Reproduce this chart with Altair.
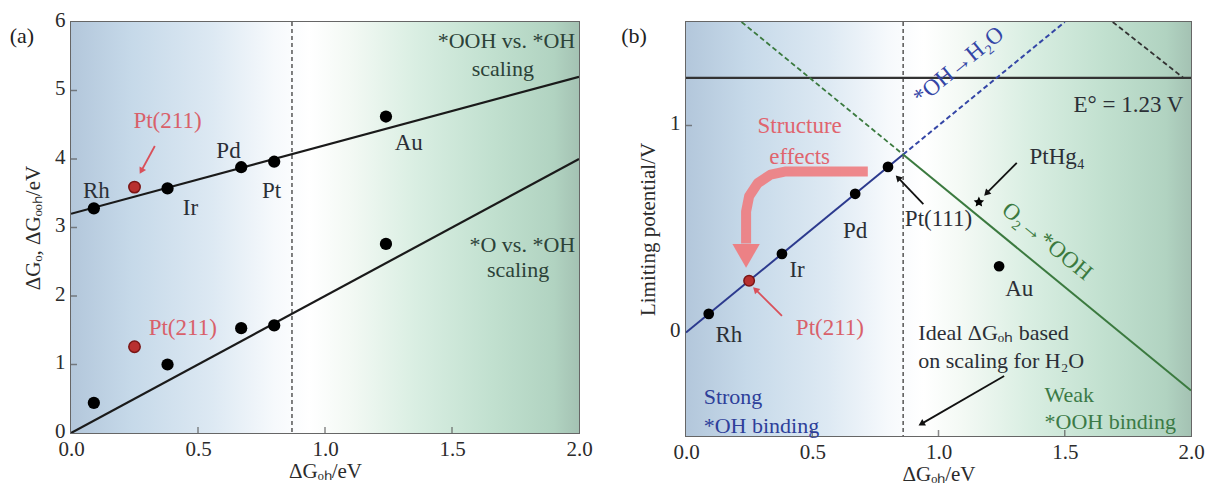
import math
import altair as alt
import pandas as pd

FONT = "Liberation Serif, Times New Roman, serif"
TS = 23  # annotation font size

# ---------------- data: panel (a) ----------------
a_metals = ["Rh", "Pt(211)", "Ir", "Pd", "Pt", "Au"]
a_dG_OH = [0.09, 0.25, 0.38, 0.67, 0.80, 1.24]
a_dG_OOH = [3.28, 3.59, 3.57, 3.88, 3.96, 4.62]
a_dG_O = [0.44, 1.26, 1.00, 1.53, 1.57, 2.76]
a_red = [False, True, False, False, False, False]

line_x = [0.0, 2.0]
ooh_scaling = [3.2, 5.2]
o_scaling = [0.0, 4.0]
ideal_dG_OH = 0.87

# ---------------- data: panel (b) ----------------
b_metals = ["Rh", "Pt(211)", "Ir", "Pd", "Pt(111)"]
b_dG_OH = [0.09, 0.25, 0.38, 0.67, 0.80]
b_U = [0.09, 0.25, 0.38, 0.67, 0.80]
au_b = [1.24, 0.32]
pthg4_b = [1.16, 0.63]
E0 = 1.23
top_ideal = 0.86
oh_h2o_x = [0.0, 0.86, 1.5]
oh_h2o_y = [0.0, 0.86, 1.5]
o2_ooh_x = [0.22, 0.86, 2.0]
o2_ooh_y = [1.5, 0.86, -0.28]
extra_dash_x = [1.69, 1.97]
extra_dash_y = [1.5, 1.23]

# structure-effects curved arrow path
se_x = [0.72, 0.396, 0.335, 0.284, 0.250, 0.238, 0.238]
se_y = [0.778, 0.778, 0.763, 0.721, 0.658, 0.585, 0.43]

# ---------------- layout ----------------
WA, HA = 508, 411
WB, HB = 505, 414
sxa, sya = WA / 2.0, HA / 6.0
sxb, syb = WB / 2.0, HB / 2.0

GRAD_STOPS = [
    {"offset": 0.0, "color": "#b3c7db"},
    {"offset": 0.12, "color": "#c6d9e9"},
    {"offset": 0.28, "color": "#dde9f3"},
    {"offset": 0.40, "color": "#f6f9fc"},
    {"offset": 0.47, "color": "#ffffff"},
    {"offset": 0.55, "color": "#f3f9f4"},
    {"offset": 0.68, "color": "#d9eee2"},
    {"offset": 0.83, "color": "#c1e0cf"},
    {"offset": 0.95, "color": "#b1d3c1"},
    {"offset": 1.0, "color": "#a4c2b3"},
]
GRADIENT = alt.LinearGradient(gradient="linear", x1=0, y1=0, x2=1, y2=0, stops=GRAD_STOPS)


def make_enc(xdom, ydom, xvals, yvals, xtitle, ytitle):
    xs = alt.Scale(domain=xdom, nice=False, zero=False)
    ys = alt.Scale(domain=ydom, nice=False, zero=False)
    xa = alt.Axis(values=xvals, format=".1f", title=xtitle, labelPadding=5, titlePadding=1,
                  labelFlush=False)
    ya = alt.Axis(values=yvals, format="d", title=ytitle, labelPadding=6, titlePadding=11,
                  labelFlush=False, labelOffset=-2)

    def X(field="x"):
        return alt.X(f"{field}:Q", scale=xs, axis=xa)

    def Y(field="y"):
        return alt.Y(f"{field}:Q", scale=ys, axis=ya)

    return X, Y


def texts(rows, X, Y, color, size=TS, align="center", angle=0, style="normal", baseline="middle"):
    df = pd.DataFrame(rows, columns=["x", "y", "t"])
    return alt.Chart(df).mark_text(
        font=FONT, fontSize=size, color=color, align=align, angle=angle,
        fontStyle=style, baseline=baseline
    ).encode(x=X(), y=Y(), text="t:N")


def arrow(x0, y0, x1, y1, sx, sy, X, Y, color, width=1.8, head=55):
    dx = (x1 - x0) * sx
    dy = -(y1 - y0) * sy
    ang = math.degrees(math.atan2(dx, -dy)) % 360
    L = math.hypot(dx, dy)
    back = 3.5
    hx = x1 - dx / L * back / sx
    hy = y1 + dy / L * back / sy
    ln = alt.Chart(pd.DataFrame({"x": [x0, hx], "y": [y0, hy]})).mark_line(
        color=color, strokeWidth=width).encode(x=X(), y=Y())
    hd = alt.Chart(pd.DataFrame({"x": [hx], "y": [hy]})).mark_point(
        shape="triangle-up", filled=True, size=head, color=color, opacity=1,
        angle=ang).encode(x=X(), y=Y())
    return [ln, hd]


def background(X, Y, xdom, ydom):
    df = pd.DataFrame({"x": [xdom[0]], "x2": [xdom[1]], "y": [ydom[0]], "y2": [ydom[1]]})
    return alt.Chart(df).mark_rect(fill=GRADIENT).encode(x=X(), x2="x2", y=Y(), y2="y2")


def inner_ticks(X, Y, xticks, yticks, h):
    tx = alt.Chart(pd.DataFrame({"x": xticks})).mark_tick(
        color="#555", size=6, thickness=1.5).encode(x=X(), y=alt.value(h - 3))
    ty = alt.Chart(pd.DataFrame({"y": yticks})).mark_tick(
        color="#555", size=6, thickness=1.5).encode(y=Y(), x=alt.value(3))
    return [tx, ty]


# ================= panel (a) =================
Xa, Ya = make_enc([0, 2], [0, 6], [0, 0.5, 1, 1.5, 2], [0, 1, 2, 3, 4, 5, 6],
                  "ΔGₒₕ/eV", "ΔGₒ, ΔGₒₒₕ/eV")

dfa = pd.DataFrame({"x": a_dG_OH, "ooh": a_dG_OOH, "o": a_dG_O, "red": a_red, "m": a_metals})
dfa_black = dfa[~dfa["red"]]
dfa_red = dfa[dfa["red"]]
dfl = pd.DataFrame({"x": line_x, "ooh": ooh_scaling, "o": o_scaling})

a_layers = [background(Xa, Ya, [0, 2], [0, 6])]
a_layers += inner_ticks(Xa, Ya, [0.5, 1.0, 1.5], [1, 2, 3, 4, 5], HA)
a_layers.append(alt.Chart(pd.DataFrame({"x": [ideal_dG_OH]})).mark_rule(
    color="#555", strokeDash=[4, 3], strokeWidth=1.5).encode(x=Xa()))
for f in ["ooh", "o"]:
    a_layers.append(alt.Chart(dfl).mark_line(color="#1a1a1a", strokeWidth=2.2, clip=True).encode(
        x=Xa(), y=Ya(f)))
    a_layers.append(alt.Chart(dfa_black).mark_circle(color="#000", size=150, opacity=1).encode(
        x=Xa(), y=Ya(f)))
    a_layers.append(alt.Chart(dfa_red).mark_point(
        filled=True, fill="#b8302f", stroke="#7a1515", strokeWidth=1.5, size=130, opacity=1).encode(
        x=Xa(), y=Ya(f)))

a_layers.append(texts([[0.10, 3.53, "Rh"], [0.47, 3.28, "Ir"], [0.62, 4.12, "Pd"],
                       [0.79, 3.53, "Pt"], [1.33, 4.24, "Au"]], Xa, Ya, "#2b2f36"))
a_layers.append(texts([[0.38, 4.56, "Pt(211)"], [0.44, 1.54, "Pt(211)"]], Xa, Ya, "#d9606a"))
a_layers.append(texts([[1.985, 5.72, "*OOH vs. *OH"], [1.985, 2.74, "*O vs. *OH"]], Xa, Ya,
                      "#2c4238", size=22, align="right"))
a_layers.append(texts([[1.70, 5.32, "scaling"], [1.76, 2.38, "scaling"]], Xa, Ya, "#2c4238", size=22))
a_layers.append(texts([[-0.193, 5.80, "(a)"]], Xa, Ya, "#222", size=22))
a_layers += arrow(0.33, 4.19, 0.27, 3.78, sxa, sya, Xa, Ya, "#d9505a", width=1.8, head=55)

panel_a = alt.layer(*a_layers).properties(width=WA, height=HA)

# ================= panel (b) =================
Xb, Yb = make_enc([0, 2], [-0.5, 1.5], [0, 0.5, 1, 1.5, 2], [0, 1],
                  "ΔGₒₕ/eV", "Limiting potential/V")

BLUE = "#2c3a8e"
GREEN = "#3b7a3f"

b_layers = [background(Xb, Yb, [0, 2], [-0.5, 1.5])]
b_layers += inner_ticks(Xb, Yb, [0.5, 1.0, 1.5], [1], HB)
b_layers.append(alt.Chart(pd.DataFrame({"x": [top_ideal]})).mark_rule(
    color="#555", strokeDash=[4, 3], strokeWidth=1.5).encode(x=Xb()))
b_layers.append(alt.Chart(pd.DataFrame({"y": [E0]})).mark_rule(
    color="#333", strokeWidth=2.2).encode(y=Yb()))

df_oh = pd.DataFrame({"x": oh_h2o_x, "y": oh_h2o_y})
df_o2 = pd.DataFrame({"x": o2_ooh_x, "y": o2_ooh_y})
b_layers.append(alt.Chart(df_oh.iloc[:2]).mark_line(color=BLUE, strokeWidth=2, clip=True).encode(x=Xb(), y=Yb()))
b_layers.append(alt.Chart(df_oh.iloc[1:]).mark_line(color="#3446a6", strokeWidth=2, strokeDash=[5, 3], clip=True).encode(x=Xb(), y=Yb()))
b_layers.append(alt.Chart(df_o2.iloc[1:]).mark_line(color=GREEN, strokeWidth=2, clip=True).encode(x=Xb(), y=Yb()))
b_layers.append(alt.Chart(df_o2.iloc[:2]).mark_line(color=GREEN, strokeWidth=1.8, strokeDash=[5, 3], clip=True).encode(x=Xb(), y=Yb()))
b_layers.append(alt.Chart(pd.DataFrame({"x": extra_dash_x, "y": extra_dash_y})).mark_line(
    color="#333", strokeWidth=1.8, strokeDash=[5, 3], clip=True).encode(x=Xb(), y=Yb()))

# structure effects arrow
df_se = pd.DataFrame({"x": se_x, "y": se_y, "o": list(range(len(se_x)))})
b_layers.append(alt.Chart(df_se).mark_line(color="#ee7c80", strokeWidth=10, opacity=0.9,
                                           strokeCap="butt", strokeJoin="round").encode(
    x=Xb(), y=Yb(), order="o:Q"))
b_layers.append(alt.Chart(pd.DataFrame({"x": [0.238], "y": [0.37]})).mark_point(
    shape="triangle-down", filled=True, size=750, color="#ee7c80", opacity=0.95).encode(x=Xb(), y=Yb()))

dfb = pd.DataFrame({"x": b_dG_OH, "y": b_U, "m": b_metals})
b_layers.append(alt.Chart(dfb[dfb["m"] != "Pt(211)"]).mark_circle(color="#000", size=115, opacity=1).encode(x=Xb(), y=Yb()))
b_layers.append(alt.Chart(dfb[dfb["m"] == "Pt(211)"]).mark_point(
    filled=True, fill="#b8302f", stroke="#7a1515", strokeWidth=1.5, size=110, opacity=1).encode(x=Xb(), y=Yb()))
b_layers.append(alt.Chart(pd.DataFrame({"x": [au_b[0]], "y": [au_b[1]]})).mark_circle(
    color="#000", size=115, opacity=1).encode(x=Xb(), y=Yb()))
b_layers.append(alt.Chart(pd.DataFrame({"x": [pthg4_b[0]], "y": [pthg4_b[1]]})).mark_point(
    shape="M0,-1L0.29,-0.4L0.95,-0.31L0.48,0.15L0.59,0.81L0,0.5L-0.59,0.81L-0.48,0.15L-0.95,-0.31L-0.29,-0.4Z",
    filled=True, color="#000", size=120, opacity=1).encode(x=Xb(), y=Yb()))

b_layers.append(texts([[0.17, -0.01, "Rh"], [0.44, 0.30, "Ir"], [0.67, 0.49, "Pd"],
                       [1.0, 0.55, "Pt(111)"], [1.32, 0.21, "Au"], [1.47, 0.85, "PtHg₄"]],
                      Xb, Yb, "#2b2f36"))
b_layers.append(texts([[0.57, 0.02, "Pt(211)"]], Xb, Yb, "#d9606a"))
b_layers.append(texts([[0.45, 1.0, "Structure"], [0.45, 0.85, "effects"]], Xb, Yb, "#e0646e"))
b_layers.append(texts([[1.97, 1.10, "E° = 1.23 V"]], Xb, Yb, "#2b2f36", align="right"))
b_layers.append(texts([[0.92, 0.0, "Ideal ΔGₒₕ based"], [0.92, -0.14, "on scaling for H₂O"]],
                      Xb, Yb, "#2b2f36", size=22, align="left"))
b_layers.append(texts([[0.07, -0.31, "Strong"], [0.07, -0.45, "*OH binding"]], Xb, Yb, "#2e3f9a", size=22, align="left"))
b_layers.append(texts([[1.42, -0.30, "Weak"], [1.42, -0.43, "*OOH binding"]], Xb, Yb, "#3b7a46", size=22, align="left"))
ang_b = math.degrees(math.atan2(syb, sxb))
b_layers.append(texts([[1.08, 1.29, "*OH→H₂O"]], Xb, Yb, "#3446a6", angle=360 - ang_b))
b_layers.append(texts([[1.43, 0.44, "O₂→*OOH"]], Xb, Yb, GREEN, angle=ang_b))
b_layers.append(texts([[-0.206, 1.43, "(b)"]], Xb, Yb, "#222", size=22))

b_layers += arrow(0.38, 0.08, 0.265, 0.22, sxb, syb, Xb, Yb, "#d9505a", width=1.8, head=55)
b_layers += arrow(0.94, 0.62, 0.83, 0.76, sxb, syb, Xb, Yb, "#111", width=1.8, head=55)
b_layers += arrow(1.31, 0.82, 1.18, 0.66, sxb, syb, Xb, Yb, "#111", width=1.8, head=55)
b_layers += arrow(1.26, -0.21, 0.92, -0.45, sxb, syb, Xb, Yb, "#111", width=1.8, head=55)

panel_b = alt.layer(*b_layers).properties(width=WB, height=HB)

chart = alt.hconcat(panel_a, panel_b, spacing=26).properties(
    padding={"left": 0, "top": 0, "right": 0, "bottom": 0}
).configure_view(stroke="#666", strokeWidth=2).configure_axis(
    domain=False, ticks=False, grid=False,
    labelFont=FONT, labelFontSize=21, labelColor="#2b2b2b",
    titleFont=FONT, titleFontSize=21, titleColor="#2b2b2b", titleFontWeight="normal",
)

chart.save("out.html", embed_options={"renderer": "svg", "actions": False})
